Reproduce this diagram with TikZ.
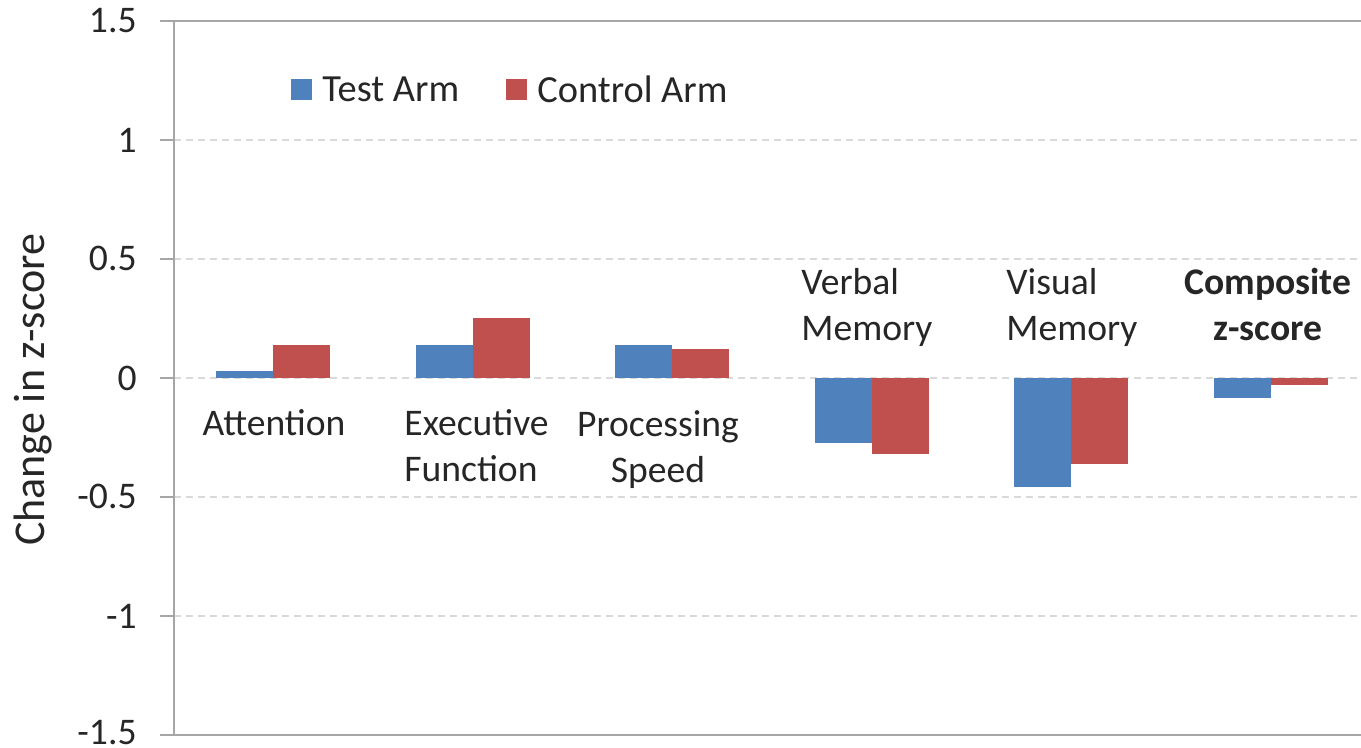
\documentclass[tikz,border=0pt]{standalone}
\usepackage{fontspec}
\setmainfont{Carlito}
\definecolor{testblue}{HTML}{4F81BD}
\definecolor{ctrlred}{HTML}{C0504D}
\definecolor{axisgray}{HTML}{A6A6A6}
\definecolor{gridgray}{HTML}{D9D9D9}
\begin{document}
\begin{tikzpicture}[x=0.5pt,y=119pt,
    test/.style={fill=testblue},
    ctrl/.style={fill=ctrlred},
    grid/.style={gridgray,line width=1pt,dash pattern=on 3.5pt off 2.5pt},
    axis/.style={axisgray,line width=1pt},
    txt/.style={font=\fontsize{18.8}{23}\selectfont,text=black!85,inner sep=0pt}]
        \useasboundingbox(0,-1.5546)rectangle(1361,1.588);
        % grid and axes
        \draw[grid](173.5,1)--(1361,1);
        \draw[grid](173.5,0.5)--(1361,0.5);
        \draw[grid](173.5,0)--(1361,0);
        \draw[grid](173.5,-0.5)--(1361,-0.5);
        \draw[grid](173.5,-1)--(1361,-1);
        \draw[axis](160,1.5)--(1361,1.5);
        \draw[axis](160,-1.5)--(1361,-1.5);
        \draw[axis](173.5,-1.5)--(173.5,1.5);
        \draw[axis](160,1)--(173.5,1);
        \draw[axis](160,0.5)--(173.5,0.5);
        \draw[axis](160,0)--(173.5,0);
        \draw[axis](160,-0.5)--(173.5,-0.5);
        \draw[axis](160,-1)--(173.5,-1);
        % tick labels
        \node[txt,anchor=east](t1)at(137,1.5){1.5};
        \node[txt,anchor=east](t2)at(137,1){1};
        \node[txt,anchor=east](t3)at(137,0.5){0.5};
        \node[txt,anchor=east](t4)at(137,0){0};
        \node[txt,anchor=east](t5)at(137,-0.5){-0.5};
        \node[txt,anchor=east](t6)at(137,-1){-1};
        \node[txt,anchor=east](t7)at(137,-1.488){-1.5};
        \node[txt,rotate=90,font=\fontsize{22}{26}\selectfont](ytitle)at(33,-0.05){Change in z-score};
        % bars
        \fill[test](216,0)rectangle(273,0.03);
        \fill[ctrl](273,0)rectangle(330,0.14);
        \fill[test](415.5,0)rectangle(472.5,0.14);
        \fill[ctrl](472.5,0)rectangle(529.5,0.25);
        \fill[test](615,0)rectangle(672,0.14);
        \fill[ctrl](672,0)rectangle(729,0.12);
        \fill[test](814.5,0)rectangle(871.5,-0.275);
        \fill[ctrl](871.5,0)rectangle(928.5,-0.32);
        \fill[test](1014,0)rectangle(1071,-0.46);
        \fill[ctrl](1071,0)rectangle(1128,-0.36);
        \fill[test](1213.5,0)rectangle(1270.5,-0.085);
        \fill[ctrl](1270.5,0)rectangle(1327.5,-0.03);
        % category labels
        \node[txt](att)at(274,-0.189){Attention};
        \node[txt,align=left,anchor=west](exe)at(404,-0.286){Executive\\Function};
        \node[txt,align=center](proc)at(658,-0.3025){Processing\\Speed};
        \node[txt,align=left,anchor=west](verb)at(801,0.294){Verbal\\Memory};
        \node[txt,align=left,anchor=west](vis)at(1006,0.294){Visual\\Memory};
        \node[txt,align=center,font=\fontsize{18.8}{23}\selectfont\bfseries](comp)at(1268,0.3087){Composite\\z-score};
        % legend
        \fill[test](291,1.168)rectangle(312,1.256);
        \node[txt,anchor=west,font=\fontsize{19.2}{23}\selectfont](ltest)at(322,1.214){Test Arm};
        \fill[ctrl](506,1.168)rectangle(527,1.256);
        \node[txt,anchor=west,font=\fontsize{19.2}{23}\selectfont](lctrl)at(537,1.214){Control Arm};
    \end{tikzpicture}
\end{document}
